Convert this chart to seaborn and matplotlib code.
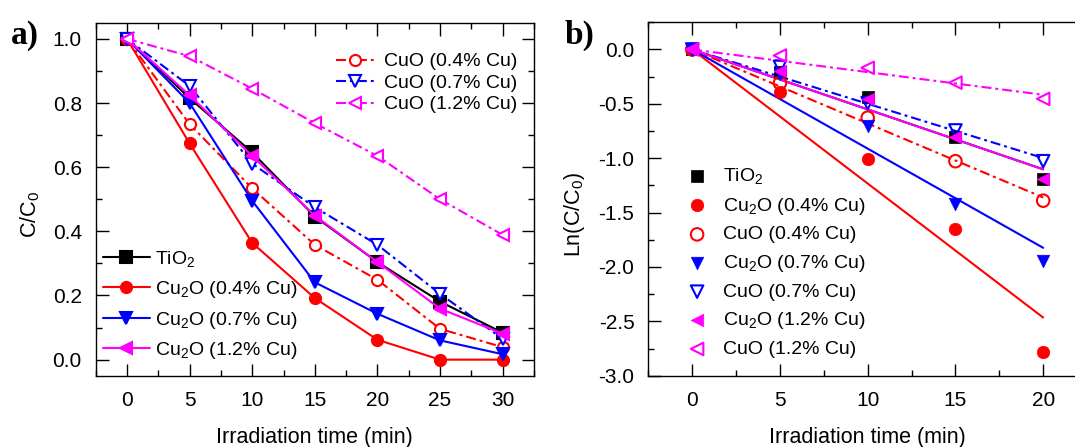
import numpy as np
import pandas as pd
import seaborn as sns
import matplotlib.pyplot as plt
from matplotlib.ticker import MultipleLocator

plt.switch_backend("Agg")

# Data (C/C0 vs irradiation time)
time_a = np.array([0, 5, 10, 15, 20, 25, 30])
tio2 = np.array([1.0, 0.815, 0.646, 0.446, 0.304, 0.181, 0.084])
cu2o_04 = np.array([1.0, 0.674, 0.364, 0.192, 0.062, 0.0, 0.0])
cuo_04 = np.array([1.0, 0.734, 0.534, 0.358, 0.249, 0.096, 0.039])
cu2o_07 = np.array([1.0, 0.800, 0.495, 0.241, 0.143, 0.060, 0.017])
cuo_07 = np.array([1.0, 0.853, 0.611, 0.475, 0.358, 0.205, 0.065])
cu2o_12 = np.array([1.0, 0.824, 0.635, 0.449, 0.304, 0.159, 0.081])
cuo_12 = np.array([1.0, 0.946, 0.845, 0.737, 0.635, 0.500, 0.389])

# panel b uses the first 20 min only
time_b = time_a[:5]

labels = ["TiO$_{\\mathregular{2}}$",
          "Cu$_{\\mathregular{2}}$O (0.4% Cu)", "CuO (0.4% Cu)",
          "Cu$_{\\mathregular{2}}$O (0.7% Cu)", "CuO (0.7% Cu)",
          "Cu$_{\\mathregular{2}}$O (1.2% Cu)", "CuO (1.2% Cu)"]
series = [tio2, cu2o_04, cuo_04, cu2o_07, cuo_07, cu2o_12, cuo_12]
colors = ["black", "#FF0000", "#FF0000", "#0000FF", "#0000FF", "#FF00FF", "#FF00FF"]
markers = ["s", "o", "o", "v", "v", "<", "<"]
filled = [True, True, False, True, False, True, False]

DASHDOT = (0, (4.8, 1.9, 1.4, 1.9))

sns.set_theme(style="ticks", rc={
    "axes.edgecolor": "black", "axes.linewidth": 1.0,
    "text.color": "black", "axes.labelcolor": "black",
    "xtick.color": "black", "ytick.color": "black",
})
plt.rcParams["font.family"] = ["Liberation Sans", "DejaVu Sans"]
plt.rcParams["mathtext.fontset"] = "custom"
plt.rcParams["mathtext.rm"] = "Liberation Sans"
plt.rcParams["mathtext.it"] = "Liberation Sans:italic"
plt.rcParams["axes.unicode_minus"] = False

fig = plt.figure(figsize=(10.75, 4.47), dpi=100)
ax1 = fig.add_axes([0.089, 0.1595, 0.4077, 0.7895])
ax2 = fig.add_axes([0.6031, 0.1595, 0.4081, 0.7906])

# ---- panel a: decay curves
handles_a = []
for lab, vals, c, m, f in zip(labels, series, colors, markers, filled):
    sns.lineplot(x=time_a, y=vals, ax=ax1, color=c, marker=m, markersize=8,
                 markerfacecolor=c if f else "white", markeredgecolor=c,
                 markeredgewidth=1.5, linewidth=1.5,
                 linestyle="-" if f else DASHDOT, label=lab)
    handles_a.append(ax1.get_lines()[-1])
ax1.get_legend().remove()

leg1 = ax1.legend(handles=[handles_a[i] for i in (0, 1, 3, 5)], loc="lower left",
                  bbox_to_anchor=(0.0075, 0.03), frameon=False, fontsize=14,
                  handlelength=2.42, handletextpad=0.25, labelspacing=0.5,
                  borderpad=0.2, borderaxespad=0)
ax1.add_artist(leg1)
ax1.legend(handles=[handles_a[i] for i in (2, 4, 6)], loc="upper right",
           bbox_to_anchor=(0.962, 0.915), frameon=False, fontsize=14,
           handlelength=1.96, handletextpad=0.5, labelspacing=0.2,
           borderpad=0, borderaxespad=0)

ax1.set_xlim(-2.5, 32.5)
ax1.set_ylim(-0.05, 1.05)
ax1.xaxis.set_major_locator(MultipleLocator(5))
ax1.xaxis.set_minor_locator(MultipleLocator(2.5))
ax1.yaxis.set_major_locator(MultipleLocator(0.2))
ax1.yaxis.set_minor_locator(MultipleLocator(0.1))
ax1.set_xlabel("Irradiation time (min)", fontsize=15.5, labelpad=12.5)
ax1.set_ylabel("C/C$_{\\mathregular{0}}$", fontsize=15.5)
ax1.yaxis.set_label_coords(-0.1225, 0.4576)

# ---- panel b: ln(C/C0) with linear fits through the origin
handles_b = []
for lab, vals, c, m, f in zip(labels, series, colors, markers, filled):
    ln_vals = np.log(vals[:5])
    k = np.sum(time_b * ln_vals) / np.sum(time_b ** 2)
    sns.lineplot(x=time_b, y=k * time_b, ax=ax2, color=c, linewidth=1.5,
                 linestyle="-" if f else DASHDOT)
    if f:
        sns.scatterplot(x=time_b, y=ln_vals, ax=ax2, color=c, marker=m, s=81,
                        edgecolor=c, linewidth=0.5, zorder=3)
    else:
        sns.scatterplot(x=time_b, y=ln_vals, ax=ax2, color=c, marker=m, s=81,
                        facecolor="none", edgecolor=c, linewidth=1.5, zorder=3)
    handles_b.append(ax2.collections[-1])

ax2.legend(handles=handles_b, labels=labels, loc="lower left",
           bbox_to_anchor=(0.089, 0.05), frameon=False, fontsize=14,
           scatterpoints=1, handlelength=1.0, handletextpad=0.83,
           labelspacing=0.48, borderpad=0, borderaxespad=0)

ax2.set_xlim(-2.5, 22.5)
ax2.set_ylim(-3.0, 0.25)
ax2.xaxis.set_major_locator(MultipleLocator(5))
ax2.xaxis.set_minor_locator(MultipleLocator(2.5))
ax2.yaxis.set_major_locator(MultipleLocator(0.5))
ax2.yaxis.set_minor_locator(MultipleLocator(0.25))
ax2.set_xlabel("Irradiation time (min)", fontsize=15.5, labelpad=12.5)
ax2.set_ylabel("Ln(C/C$_{\\mathregular{0}}$)", fontsize=15.5)
ax2.yaxis.set_label_coords(-0.140, 0.4576)

for ax in (ax1, ax2):
    ax.tick_params(which="both", direction="in", top=True, right=True,
                   labelsize=15)
    ax.tick_params(axis="x", pad=11)
    ax.tick_params(axis="y", pad=10)
    ax.tick_params(which="major", length=9, width=1)
    ax.tick_params(which="minor", length=4.5, width=1)
    for sp in ax.spines.values():
        sp.set_visible(True)
        sp.set_linewidth(1.0)

fig.text(11 / 1075, 1 - 43.5 / 447, "a)", fontfamily="Liberation Serif",
         fontweight="bold", fontsize=24, va="baseline", ha="left")
fig.text(565 / 1075, 1 - 43.5 / 447, "b)", fontfamily="Liberation Serif",
         fontweight="bold", fontsize=24, va="baseline", ha="left")

fig.savefig("out.png", dpi=100)
